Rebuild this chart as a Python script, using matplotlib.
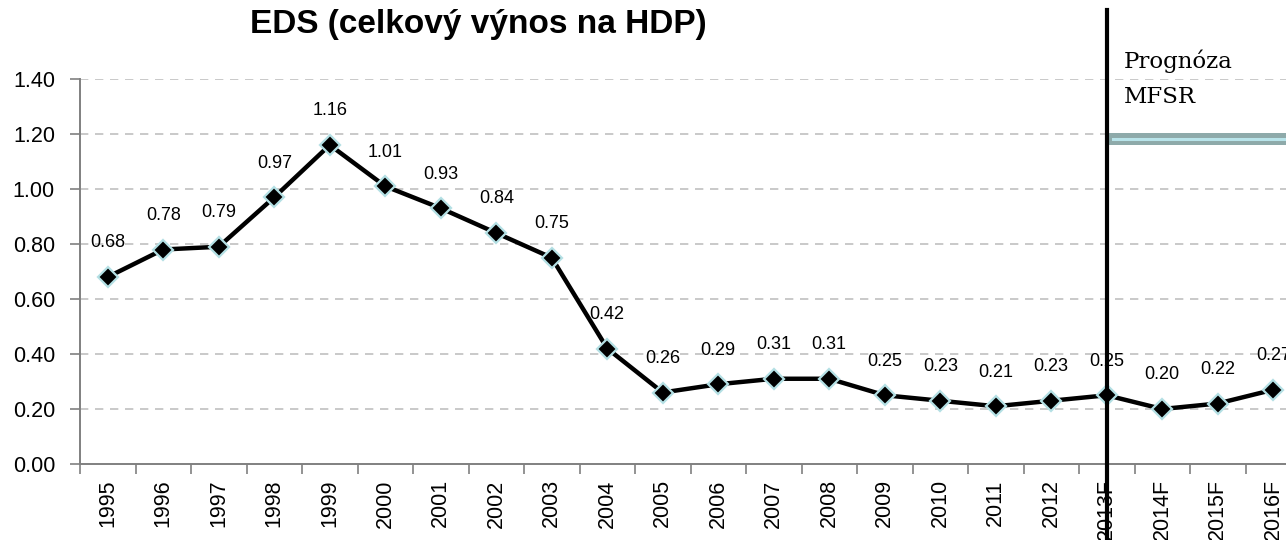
import matplotlib
matplotlib.use("Agg")
import matplotlib.pyplot as plt
from matplotlib.patches import Rectangle
import matplotlib.transforms as mtransforms

years = ["1995", "1996", "1997", "1998", "1999", "2000", "2001", "2002", "2003", "2004",
         "2005", "2006", "2007", "2008", "2009", "2010", "2011", "2012",
         "2013F", "2014F", "2015F", "2016F"]
values = [0.68, 0.78, 0.79, 0.97, 1.16, 1.01, 0.93, 0.84, 0.75, 0.42,
          0.26, 0.29, 0.31, 0.31, 0.25, 0.23, 0.21, 0.23,
          0.25, 0.20, 0.22, 0.27]
yticks = [0.0, 0.2, 0.4, 0.6, 0.8, 1.0, 1.2, 1.4]
title = "EDS (celkový výnos na HDP)"
forecast_label = "Prognóza\nMFSR"
forecast_start = "2013F"

plt.rcParams['font.family'] = ['Liberation Sans', 'DejaVu Sans']

W, H = 1286, 540
fig = plt.figure(figsize=(W / 100, H / 100), dpi=100)
ax = fig.add_axes([80 / W, 1 - 464 / H, (1301 - 80) / W, (464 - 79) / H])

x = list(range(len(years)))
ax.plot(x, values, color='black', lw=3.2, marker='D', markersize=10,
        markerfacecolor='black', markeredgecolor='#b4e0e4', markeredgewidth=1.6,
        zorder=4, clip_on=False)

for xi, v in zip(x, values):
    ax.annotate(f"{v:.2f}", (xi, v), xytext=(0, 24.5), textcoords='offset points',
                ha='center', va='center', fontsize=13, zorder=5, annotation_clip=False)

ax.set_xlim(-0.5, len(years) - 0.5)
ax.set_ylim(0, 1.4)
ax.set_yticks(yticks)
ax.set_yticklabels([f"{t:.2f}" for t in yticks], fontsize=15.5)
ax.set_xticks(x)
ax.set_xticklabels(years, rotation=90, fontsize=15.5)
ax.set_xticks([i + 0.5 for i in range(-1, len(years))], minor=True)
ax.tick_params(axis='x', which='major', length=0, pad=11)
ax.tick_params(axis='x', which='minor', length=7, color='#808080', width=1.2)
ax.tick_params(axis='y', length=7, color='#808080', width=1.2, pad=11)

for t in yticks[1:]:
    ax.axhline(t, color='#c0c0c0', lw=1.2, ls=(0, (5, 4)), zorder=1)

for s in ['top', 'right']:
    ax.spines[s].set_visible(False)
for s in ['left', 'bottom']:
    ax.spines[s].set_color('#808080')
    ax.spines[s].set_linewidth(1.4)

# forecast divider
fi = years.index(forecast_start)
trans = mtransforms.blended_transform_factory(ax.transData, ax.transAxes)
ax.plot([fi, fi], [(464 - 540) / 385, (464 - 10) / 385], color='black', lw=3,
        transform=trans, clip_on=False, zorder=6)

# forecast band
ax.add_patch(Rectangle((fi + 0.02, 1.16), 4.0, 0.044, facecolor='#8eaaaa',
                       edgecolor='none', clip_on=False, zorder=3))
ax.plot([fi + 0.12, fi + 4], [1.183, 1.183], color='#b8e4ea', lw=2.2,
        clip_on=False, zorder=3.5)

fig.text(1124 / W, 1 - 79 / H, forecast_label, fontsize=16.5,
         family=['DejaVu Serif'], ha='left', va='center',
         linespacing=1.75)

fig.text(478 / W, 1 - 24 / H, title, fontsize=24, fontweight='bold',
         ha='center', va='center')

fig.savefig("out.png", dpi=100)
